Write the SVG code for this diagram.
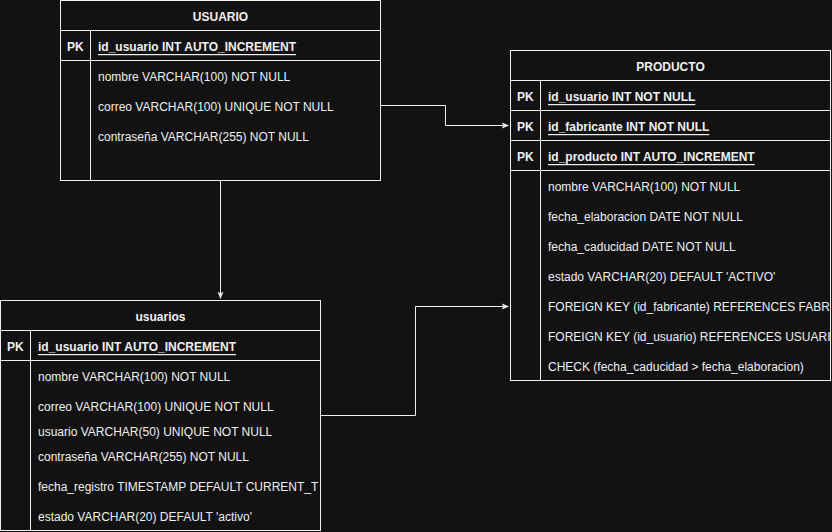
<svg xmlns="http://www.w3.org/2000/svg" width="832" height="532" viewBox="0 0 832 532">
<style>
.box{fill:#121212;stroke:#f0f0f0;stroke-width:1}
.ln{stroke:#f0f0f0;stroke-width:1;fill:none}
text{font-family:"Liberation Sans",Arial,sans-serif;font-size:12px;fill:#f0f0f0;dominant-baseline:central}
.h{font-weight:bold;text-anchor:middle}
.pk{font-weight:bold}
.u{font-weight:bold;text-decoration:underline}
</style>
<defs>
<marker id="arr" viewBox="0 0 10 10" refX="9" refY="5" markerWidth="7" markerHeight="7" markerUnits="userSpaceOnUse" orient="auto">
<path d="M0,1 L10,5 L0,9 L3,5 Z" fill="#f0f0f0" stroke="#f0f0f0" stroke-width="0.5"/>
</marker>
<clipPath id="c1"><rect x="510" y="50" width="320" height="331"/></clipPath>
<clipPath id="c2"><rect x="0" y="300" width="320" height="231"/></clipPath>
</defs>
<rect width="832" height="532" fill="#121212"/>
<g id="connectors">
<path class="ln" d="M380.5,105.5 H445.5 V125.5 H508" marker-end="url(#arr)"/>
<path class="ln" d="M220.5,180.5 V298" marker-end="url(#arr)"/>
<path class="ln" d="M320.5,415.5 H415.5 V306.5 H508" marker-end="url(#arr)"/>
</g>
<g id="USUARIO">
<rect class="box" x="60.5" y="0.5" width="320" height="180"/>
<path class="ln" d="M60.5,30.5 H380.5 M60.5,60.5 H380.5 M90.5,30.5 V180.5"/>
<text class="h" x="220.5" y="17">USUARIO</text>
<text class="pk" x="67" y="47">PK</text>
<text class="u" x="98" y="47">id_usuario INT AUTO_INCREMENT</text>
<text x="98" y="77">nombre VARCHAR(100) NOT NULL</text>
<text x="98" y="107">correo VARCHAR(100) UNIQUE NOT NULL</text>
<text x="98" y="137">contraseña VARCHAR(255) NOT NULL</text>
</g>
<g id="PRODUCTO">
<rect class="box" x="510.5" y="50.5" width="320" height="330"/>
<path class="ln" d="M510.5,80.5 H830.5 M510.5,110.5 H830.5 M510.5,140.5 H830.5 M510.5,170.5 H830.5 M540.5,80.5 V380.5"/>
<text class="h" x="670.5" y="67">PRODUCTO</text>
<text class="pk" x="517" y="97">PK</text>
<text class="u" x="548" y="97">id_usuario INT NOT NULL</text>
<text class="pk" x="517" y="127">PK</text>
<text class="u" x="548" y="127">id_fabricante INT NOT NULL</text>
<text class="pk" x="517" y="157">PK</text>
<text class="u" x="548" y="157">id_producto INT AUTO_INCREMENT</text>
<g clip-path="url(#c1)">
<text x="548" y="187">nombre VARCHAR(100) NOT NULL</text>
<text x="548" y="217">fecha_elaboracion DATE NOT NULL</text>
<text x="548" y="247">fecha_caducidad DATE NOT NULL</text>
<text x="548" y="277">estado VARCHAR(20) DEFAULT 'ACTIVO'</text>
<text x="548" y="307">FOREIGN KEY (id_fabricante) REFERENCES FABR</text>
<text x="548" y="337">FOREIGN KEY (id_usuario) REFERENCES USUARI</text>
<text x="548" y="367">CHECK (fecha_caducidad &gt; fecha_elaboracion)</text>
</g>
</g>
<g id="usuarios">
<rect class="box" x="0.5" y="300.5" width="320" height="230"/>
<path class="ln" d="M0.5,330.5 H320.5 M0.5,360.5 H320.5 M30.5,330.5 V530.5"/>
<text class="h" x="160.5" y="317">usuarios</text>
<text class="pk" x="7" y="347">PK</text>
<text class="u" x="38" y="347">id_usuario INT AUTO_INCREMENT</text>
<g clip-path="url(#c2)">
<text x="38" y="377">nombre VARCHAR(100) NOT NULL</text>
<text x="38" y="407">correo VARCHAR(100) UNIQUE NOT NULL</text>
<text x="38" y="432">usuario VARCHAR(50) UNIQUE NOT NULL</text>
<text x="38" y="457">contraseña VARCHAR(255) NOT NULL</text>
<text x="38" y="487">fecha_registro TIMESTAMP DEFAULT CURRENT_T</text>
<text x="38" y="517">estado VARCHAR(20) DEFAULT 'activo'</text>
</g>
</g>
</svg>
